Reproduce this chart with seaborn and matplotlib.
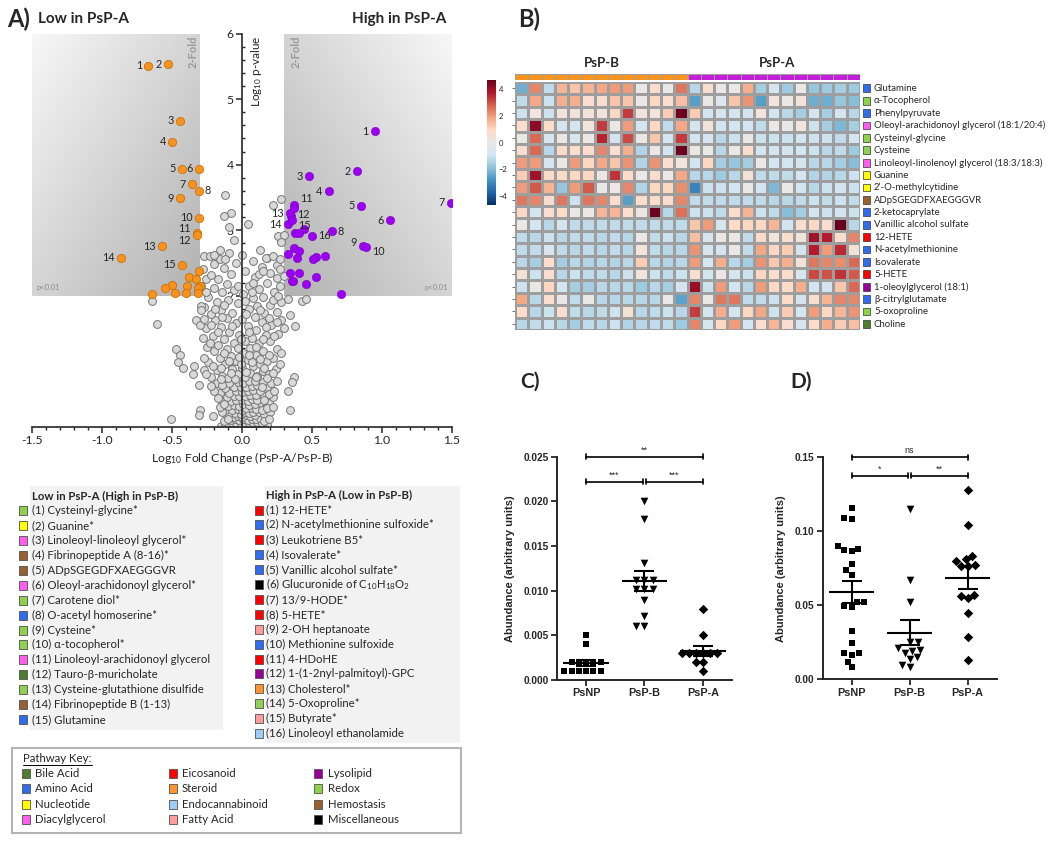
import numpy as np
import pandas as pd
import matplotlib
matplotlib.use('Agg')
import matplotlib.pyplot as plt
import seaborn as sns
from matplotlib.colors import LinearSegmentedColormap, ListedColormap
from matplotlib.patches import Rectangle
from matplotlib.ticker import MultipleLocator, FormatStrFormatter, FuncFormatter

sns.set_style('ticks')
plt.rcParams['font.family'] = ['Lato', 'DejaVu Sans']
plt.rcParams['mathtext.default'] = 'regular'

# ---------------- data ----------------
pathway_colors = {
    'Bile Acid': '#4e7d2c', 'Amino Acid': '#2f6cf0', 'Nucleotide': '#ffff00',
    'Diacylglycerol': '#ff5cf0', 'Eicosanoid': '#ff0000', 'Steroid': '#ff9430',
    'Endocannabinoid': '#9fcdf5', 'Fatty Acid': '#ff9c9c', 'Lysolipid': '#990099',
    'Redox': '#8fd14f', 'Hemostasis': '#9a6130', 'Miscellaneous': '#000000',
}
key_columns = [['Bile Acid', 'Amino Acid', 'Nucleotide', 'Diacylglycerol'],
               ['Eicosanoid', 'Steroid', 'Endocannabinoid', 'Fatty Acid'],
               ['Lysolipid', 'Redox', 'Hemostasis', 'Miscellaneous']]

# volcano: significant, lower in PsP-A (orange)
low_fc = [-0.67, -0.53, -0.44, -0.50, -0.43, -0.305, -0.355, -0.31, -0.445, -0.305, -0.325, -0.325,
          -0.574, -0.864, -0.426, -0.31, -0.38, -0.33, -0.50, -0.55, -0.39, -0.30, -0.315, -0.643,
          -0.48, -0.40, -0.317]
low_logp = [5.51, 5.53, 4.67, 4.35, 3.94, 3.94, 3.70, 3.60, 3.49, 3.19, 2.96, 2.92, 2.75, 2.58, 2.47,
            2.37, 2.29, 2.26, 2.16, 2.12, 2.14, 2.15, 2.11, 2.03, 2.04, 2.04, 2.04]
low_side = ['l', 'l', 'l', 'l', 'l', 'l', 'l', 'r', 'l', 'l', 'lu', 'ld', 'l', 'l', 'l'] + [''] * 12

# volcano: significant, higher in PsP-A (purple)
high_fc = [0.95, 0.824, 0.48, 0.62, 0.85, 1.06, 1.49, 0.64, 0.867, 0.886, 0.371, 0.35, 0.343, 0.33,
           0.355, 0.50, 0.368, 0.44, 0.38, 0.41, 0.373, 0.41, 0.33, 0.39, 0.53, 0.51, 0.59, 0.34, 0.41,
           0.53, 0.355, 0.366, 0.46, 0.71]
high_logp = [4.51, 3.90, 3.82, 3.59, 3.37, 3.15, 3.42, 2.98, 2.75, 2.74, 3.38, 3.21, 3.26, 3.09, 3.15,
             2.91, 3.33, 3.02, 2.95, 2.95, 2.72, 2.68, 2.64, 2.57, 2.59, 2.56, 2.60, 2.34, 2.34, 2.29,
             2.22, 2.23, 2.17, 2.02]
high_side = ['l', 'l', 'l', 'l', 'l', 'l', 'l', 'r', 'lu', 'rd', 'r11', 'r12', 'l', 'l', 'r15', 'r'] + [''] * 18

# volcano: all other metabolites (fold change, -log10 p)
other_points = [
    (-0.15, 0.01), (-0.12, 0.02), (-0.09, 0.01), (-0.06, 0.02), (-0.03, 0.01), (0.0, 0.02), (0.03, 0.01),
    (0.06, 0.02), (0.09, 0.01), (0.12, 0.02), (0.15, 0.01), (0.18, 0.02),
    (-0.1, 0.05), (-0.07, 0.06), (-0.04, 0.05), (-0.01, 0.06), (0.02, 0.05), (0.05, 0.06), (0.08, 0.05),
    (0.11, 0.07), (0.14, 0.06), (-0.08, 0.1), (-0.05, 0.11), (-0.02, 0.1), (0.01, 0.11), (0.04, 0.1),
    (0.07, 0.12), (0.1, 0.11), (0.13, 0.13), (-0.11, 0.15), (-0.06, 0.15), (-0.03, 0.16), (0.0, 0.15),
    (0.03, 0.17), (0.06, 0.16), (0.09, 0.18), (-0.09, 0.2), (-0.05, 0.21), (-0.01, 0.2), (0.02, 0.22),
    (0.05, 0.21), (0.08, 0.23), (0.12, 0.22), (0.16, 0.2), (-0.12, 0.26), (-0.07, 0.26), (-0.03, 0.27),
    (0.0, 0.26), (0.03, 0.28), (0.07, 0.29), (0.1, 0.27), (-0.1, 0.32), (-0.06, 0.33), (-0.02, 0.32),
    (0.01, 0.34), (0.05, 0.33), (0.09, 0.35), (0.14, 0.34), (0.19, 0.36), (-0.14, 0.38), (-0.08, 0.39),
    (-0.04, 0.4), (0.0, 0.41), (0.04, 0.39), (0.07, 0.42), (0.11, 0.41), (-0.11, 0.45), (-0.06, 0.46),
    (-0.02, 0.47), (0.02, 0.46), (0.06, 0.48), (0.1, 0.49), (0.16, 0.47), (0.22, 0.45), (-0.16, 0.52),
    (-0.09, 0.52), (-0.04, 0.54), (0.0, 0.53), (0.04, 0.55), (0.08, 0.56), (0.13, 0.54), (-0.12, 0.59),
    (-0.06, 0.6), (-0.01, 0.61), (0.03, 0.6), (0.07, 0.62), (0.11, 0.63), (0.18, 0.6), (-0.18, 0.66),
    (-0.09, 0.67), (-0.03, 0.68), (0.01, 0.67), (0.05, 0.69), (0.09, 0.7), (0.15, 0.68), (0.21, 0.66),
    (-0.22, 0.75), (-0.14, 0.78), (-0.1, 0.74), (-0.03, 0.8), (0.02, 0.76), (0.06, 0.82), (0.11, 0.78),
    (0.15, 0.85), (0.19, 0.8), (0.24, 0.88), (-0.18, 0.86), (-0.07, 0.88), (0.0, 0.9), (0.08, 0.93),
    (0.13, 0.96), (-0.12, 0.95), (-0.24, 0.98), (-0.04, 1.0), (0.04, 1.02), (0.18, 1.0), (0.22, 1.05),
    (-0.16, 1.05), (-0.08, 1.08), (0.1, 1.1), (0.01, 1.12), (-0.2, 1.15), (0.15, 1.15), (-0.11, 1.18),
    (0.06, 1.2), (0.25, 1.18), (-0.25, 1.22), (-0.17, 1.25), (-0.06, 1.27), (0.02, 1.3), (0.12, 1.28),
    (0.2, 1.3), (-0.13, 1.33), (0.07, 1.36), (0.17, 1.4), (-0.21, 1.38), (-0.02, 1.4), (0.26, 1.42),
    (-0.09, 1.45), (0.1, 1.47), (-0.26, 1.5), (-0.15, 1.52), (0.04, 1.53), (0.21, 1.55), (-0.04, 1.58),
    (0.14, 1.6), (-0.19, 1.62), (0.28, 1.62), (0.0, 1.65), (-0.11, 1.66), (0.09, 1.68), (-0.22, 1.72),
    (-0.07, 1.74), (0.16, 1.74), (0.25, 1.75), (-0.15, 1.78), (0.05, 1.8), (-0.27, 1.82), (0.11, 1.84),
    (0.2, 1.86), (-0.03, 1.88), (-0.18, 1.9), (0.28, 1.9), (-0.1, 1.94), (0.08, 1.96), (0.15, 1.98),
    (-0.24, 1.98), (0.01, 2.02), (-0.14, 2.05), (0.23, 2.05), (-0.06, 2.08), (0.12, 2.1), (-0.2, 2.12),
    (0.05, 2.15), (0.27, 2.15), (-0.11, 2.18), (0.18, 2.2), (-0.26, 2.25), (-0.17, 2.26), (0.09, 2.28),
    (-0.22, 2.32), (-0.08, 2.33), (0.2, 2.34), (0.02, 2.38), (-0.28, 2.4), (-0.13, 2.42), (0.14, 2.44),
    (-0.2, 2.48), (0.25, 2.46), (-0.04, 2.5), (0.08, 2.53), (-0.16, 2.56), (0.18, 2.58), (0.0, 2.62),
    (-0.09, 2.65), (-0.12, 3.54), (-0.08, 3.26), (-0.13, 3.21), (-0.09, 3.05), (-0.06, 2.85),
    (-0.16, 2.7), (-0.27, 2.61), (-0.23, 2.61), (-0.2, 2.62), (-0.12, 2.56), (0.045, 3.09), (0.28, 3.47),
    (0.22, 3.39), (0.26, 2.91), (0.3, 2.93), (0.28, 2.82), (0.13, 2.7), (0.17, 2.58), (0.22, 2.61),
    (0.27, 2.56), (0.27, 2.41), (0.12, 2.33), (0.25, 2.27), (0.08, 2.19),
    (-0.64, 1.91), (-0.61, 1.57), (-0.47, 1.18), (-0.44, 1.1), (-0.455, 0.99), (-0.42, 0.89),
    (-0.34, 0.92), (-0.35, 0.81), (-0.27, 0.87), (-0.31, 0.63), (-0.3, 0.25), (-0.305, 0.17),
    (-0.21, 0.16), (-0.51, 0.11), (-0.33, 1.63), (-0.3, 1.55), (-0.29, 1.84), (-0.29, 1.78),
    (0.33, 1.95), (0.43, 1.91), (0.46, 1.95), (0.34, 1.7), (0.38, 1.54), (0.37, 0.75), (0.36, 0.68),
    (0.33, 0.55), (0.34, 0.25), (0.2, 0.23), (0.165, 0.28),
    (-0.13, 0.08), (-0.1, 0.12), (0.16, 0.09), (0.19, 0.12), (-0.14, 0.22), (0.14, 0.25), (0.18, 0.28),
    (-0.16, 0.3), (0.22, 0.3), (-0.13, 0.35), (0.16, 0.4), (-0.17, 0.44), (0.19, 0.5), (-0.2, 0.55),
    (0.23, 0.55), (-0.14, 0.63), (0.14, 0.6), (-0.22, 0.62), (0.25, 0.7), (-0.15, 0.72), (0.18, 0.74),
    (-0.05, 0.73), (0.1, 0.76), (-0.26, 0.8), (0.22, 0.82), (-0.08, 0.82), (0.03, 0.84), (-0.15, 0.9),
    (0.16, 0.9), (0.27, 0.95), (-0.21, 0.93), (-0.01, 0.95), (0.07, 0.98), (-0.09, 1.0), (0.13, 1.03),
    (-0.27, 1.05), (-0.02, 1.06), (0.05, 1.09), (-0.13, 1.12), (0.19, 1.1), (0.28, 1.12), (-0.23, 1.28),
    (0.1, 1.22), (-0.03, 1.2), (0.15, 1.34), (-0.28, 1.35), (-0.01, 1.33), (0.23, 1.38), (-0.17, 1.44),
    (0.05, 1.44), (0.3, 1.5), (-0.22, 1.55), (0.17, 1.52), (-0.07, 1.53), (0.25, 1.6), (-0.27, 1.65),
    (-0.14, 1.68), (0.19, 1.66), (0.03, 1.72), (-0.19, 1.8), (0.13, 1.78), (0.22, 1.94), (-0.13, 1.86),
    (0.02, 1.92), (-0.26, 2.05), (0.26, 2.0), (0.07, 2.05), (-0.03, 2.15), (0.3, 2.3), (-0.29, 2.15),
    (0.15, 2.38),
]

low_names = ['(1) Cysteinyl-glycine*', '(2) Guanine*', '(3) Linoleoyl-linoleoyl glycerol*',
             '(4) Fibrinopeptide A (8-16)*', '(5) ADpSGEGDFXAEGGGVR', '(6) Oleoyl-arachidonoyl glycerol*',
             '(7) Carotene diol*', '(8) O-acetyl homoserine*', '(9) Cysteine*', '(10) α-tocopherol*',
             '(11) Linoleoyl-arachidonoyl glycerol', '(12) Tauro-β-muricholate',
             '(13) Cysteine-glutathione disulfide', '(14) Fibrinopeptide B (1-13)', '(15) Glutamine']
low_paths = ['Redox', 'Nucleotide', 'Diacylglycerol', 'Hemostasis', 'Hemostasis', 'Diacylglycerol',
             'Redox', 'Amino Acid', 'Redox', 'Redox', 'Diacylglycerol', 'Bile Acid', 'Redox',
             'Hemostasis', 'Amino Acid']
high_names = ['(1) 12-HETE*', '(2) N-acetylmethionine sulfoxide*', '(3) Leukotriene B5*',
              '(4) Isovalerate*', '(5) Vanillic alcohol sulfate*', '(6) Glucuronide of C$_{10}$H$_{18}$O$_2$',
              '(7) 13/9-HODE*', '(8) 5-HETE*', '(9) 2-OH heptanoate', '(10) Methionine sulfoxide',
              '(11) 4-HDoHE', '(12) 1-(1-2nyl-palmitoyl)-GPC', '(13) Cholesterol*', '(14) 5-Oxoproline*',
              '(15) Butyrate*', '(16) Linoleoyl ethanolamide']
high_paths = ['Eicosanoid', 'Amino Acid', 'Eicosanoid', 'Amino Acid', 'Amino Acid', 'Miscellaneous',
              'Eicosanoid', 'Eicosanoid', 'Fatty Acid', 'Amino Acid', 'Eicosanoid', 'Lysolipid',
              'Steroid', 'Redox', 'Fatty Acid', 'Endocannabinoid']

# heatmap (B)
metabolites = ['Glutamine', 'α-Tocopherol', 'Phenylpyruvate', 'Oleoyl-arachidonoyl glycerol (18:1/20:4)',
               'Cysteinyl-glycine', 'Cysteine', 'Linoleoyl-linolenoyl glycerol (18:3/18:3)', 'Guanine',
               '2’-O-methylcytidine', 'ADpSGEGDFXAEGGGVR', '2-ketocaprylate', 'Vanillic alcohol sulfate',
               '12-HETE', 'N-acetylmethionine', 'Isovalerate', '5-HETE', '1-oleoylglycerol (18:1)',
               'β-citrylglutamate', '5-oxoproline', 'Choline']
metab_paths = ['Amino Acid', 'Redox', 'Amino Acid', 'Diacylglycerol', 'Redox', 'Redox', 'Diacylglycerol',
               'Nucleotide', 'Nucleotide', 'Hemostasis', 'Amino Acid', 'Amino Acid', 'Eicosanoid',
               'Amino Acid', 'Amino Acid', 'Eicosanoid', 'Lysolipid', 'Amino Acid', 'Redox', 'Bile Acid']
sample_groups = ['PsP-B'] * 13 + ['PsP-A'] * 13
heat_values = [
    [-2.3, 2.3, -1.2, 1.6, 1.3, 1.6, 1.8, 2.0, 2.0, 0, 0.8, 0, 2.5, -1.3, 0.7, 0.1, 0, 1.7, -1.6, -0.7, -1.7, 0, -1.8, -1.7, -1.6, -1.7],
    [-1.2, 1.8, -1.0, 1.7, 1.7, 0.7, 0.7, 1.3, 1.3, 0, 1.0, 0.8, 1.4, -2.6, 0, -0.5, 1.3, 2.1, -2.6, 0.3, 0, 0.4, -2.3, -2.3, -1.8, -2.0],
    [-1.0, 0.3, -1.0, 0.4, 0.4, 0.4, 0.4, 1.0, 3.3, 0.3, 0.3, 1.2, 4.6, 1.2, -0.9, -0.8, -0.9, -0.9, 0.3, -0.9, -1.3, -1.6, -0.8, -1.6, -0.8, -1.3],
    [0.8, 4.2, 0.9, -0.8, -0.8, 0.3, 3.3, 0.1, 2.0, -0.8, 1.0, -1.2, 1.8, -0.8, 0.4, -0.9, -0.8, -0.9, -1.2, 0, 0, 0.3, -1.0, -1.6, -2.1, -1.6],
    [0, 2.7, -0.8, 0.1, -0.7, 0.1, 3.6, -0.8, 3.1, 0.1, 1.3, -0.8, 3.3, -0.9, -0.8, -1.3, -1.0, 0, -1.0, -1.0, -1.0, -0.9, -1.0, -1.0, -1.2, -0.8],
    [0.8, 2.7, -1.3, 0.9, 0.8, 0.8, 2.3, 0.7, 1.7, -1.4, 0.1, -0.9, 4.6, 0, 0, -1.3, 0, 0.8, -0.9, -0.9, -0.9, -0.9, -1.0, -1.3, -1.2, -1.7],
    [2.0, 2.0, -0.8, 0.1, 2.0, 1.0, 1.8, 1.3, 2.1, -1.4, 2.1, 0.8, 0.3, -0.9, 1.0, -1.6, -1.8, -1.6, 0, -0.9, -0.9, -0.8, -1.3, -1.3, -1.6, -2.0],
    [1.2, 4.0, 0.9, 0.9, 1.0, 1.0, 0.1, 3.4, 0.9, 0, 0.7, 0, 1.8, -1.3, -1.3, -1.7, -1.3, 0.5, -1.2, -1.2, -1.2, -0.8, -1.4, -1.4, -1.3, -1.0],
    [2.0, 2.9, 1.6, -1.8, 2.0, 2.9, 0, 0.1, 2.3, -1.4, 1.0, 1.0, 2.2, -3.1, -1.0, -1.0, -0.9, 0, -0.9, -2.1, 0, -0.9, -1.3, -1.0, -0.9, -1.0],
    [2.5, 2.3, 0.8, 2.5, -1.0, 2.5, 2.3, 0.8, -2.6, 0.8, 0.8, 0.8, 2.3, -1.2, -1.2, -1.2, -1.2, -1.2, -1.2, -1.3, -1.3, -1.2, -1.0, -1.2, -1.0, -1.2],
    [1.0, -0.8, 0.7, 0.9, 0, 0.1, 1.6, 1.6, 0.8, 0.1, 4.6, -1.3, 2.6, -1.0, -1.0, -1.2, 0.8, 1.6, -1.0, -1.2, -2.0, -1.6, -0.9, -1.0, -0.9, -1.0],
    [0, -0.9, -1.3, -0.8, -1.2, -1.2, -1.2, -1.2, -1.2, -1.2, -1.2, -1.2, -1.2, 1.3, 2.0, -0.7, 0.9, 1.0, 1.0, 1.6, -0.9, 0.7, 1.0, 0.8, 4.7, -1.3],
    [-1.2, -1.3, -1.0, -1.3, -1.2, -1.2, -1.3, -1.2, -1.3, 0, -1.2, -1.0, -1.3, 1.4, -0.7, 0.1, 0, -1.2, 0.9, 0.3, 0.8, 0.4, 4.0, 3.7, 0.7, 2.3],
    [-1.2, -1.2, -0.7, -1.2, -1.3, -1.2, -1.3, -1.2, -1.3, 0.3, -1.2, -1.3, -1.3, 2.1, -0.8, -0.8, 0, -1.2, 1.8, 1.0, 1.2, -0.8, 3.7, 2.0, 3.5, 0.5],
    [-1.3, -1.6, 0.8, -1.6, -1.3, -1.4, -1.3, -1.4, -1.3, 1.2, -1.3, -1.4, -1.3, 2.0, -0.7, 1.7, -1.3, -1.6, 2.1, 1.3, 1.7, 0.4, 2.5, 2.3, 2.2, 2.7],
    [0.5, -1.0, 0.7, -1.3, -1.0, -1.2, -1.2, -1.3, -1.0, 0.3, -1.0, -1.2, -1.0, 0.7, -0.9, 0.1, -0.8, -1.0, 1.0, 0.7, 0.8, -0.7, 3.1, 3.0, 3.4, 2.9],
    [-1.0, 0, 1.0, -0.9, -1.6, -1.6, -1.3, -1.3, -1.3, -1.7, -1.3, -1.6, -0.8, 4.1, -1.0, 2.0, -0.9, -1.3, 2.0, 1.0, 0.9, 1.7, -0.9, -0.9, 1.3, 2.7],
    [1.8, -1.3, 0.8, 0, -1.2, 0, -1.3, -1.3, -1.3, -1.3, -1.3, 0, -2.5, 2.3, 0, 2.5, 2.5, -1.2, -1.2, -1.0, 0.9, -0.8, 0.7, 1.6, 2.3, 2.3],
    [0.8, -1.3, -1.0, 0.7, -1.2, -1.3, -1.2, -1.0, 0.5, -1.3, -1.2, -1.0, -1.3, 3.3, -0.9, 1.7, -0.8, 1.0, 1.8, -1.0, 1.2, -0.8, 2.0, 1.0, 1.6, 2.1],
    [-1.3, -1.2, -1.0, -1.3, -1.6, -1.2, -1.3, -1.0, -1.4, -1.3, -1.2, -1.2, -1.7, 2.3, -0.8, 1.0, 2.0, -0.9, 0.8, 1.6, 0.7, -0.7, 0.9, 1.7, 1.2, 1.4],
]

# dot plots (C, D)
groups = ['PsNP', 'PsP-B', 'PsP-A']
c_psnp = [0.005, 0.004, 0.002, 0.002, 0.002, 0.002, 0.002, 0.001, 0.001, 0.001, 0.001, 0.001, 0.001]
c_pspb = [0.020, 0.018, 0.0131, 0.0112, 0.0112, 0.0112, 0.0102, 0.0102, 0.0102, 0.009, 0.0072, 0.0061, 0.0061]
c_pspa = [0.008, 0.005, 0.003, 0.003, 0.003, 0.003, 0.003, 0.003, 0.002, 0.002, 0.001]
d_psnp = [0.116, 0.108, 0.109, 0.090, 0.0874, 0.0865, 0.088, 0.0777, 0.0739, 0.0707, 0.052, 0.0487,
          0.0497, 0.0524, 0.0326, 0.0243, 0.0176, 0.0164, 0.0176, 0.012, 0.008]
d_pspb = [0.115, 0.067, 0.052, 0.025, 0.025, 0.021, 0.019, 0.018, 0.020, 0.014, 0.015, 0.010, 0.008]
d_pspa = [0.128, 0.104, 0.081, 0.080, 0.083, 0.0766, 0.0774, 0.0766, 0.0572, 0.0563, 0.055, 0.0446,
          0.0284, 0.013]
c_stars = [('**', 0, 2, 0.025), ('***', 0, 0.97, 0.0222), ('***', 1.03, 2, 0.0222)]
d_stars = [('ns', 0, 2, 0.15), ('*', 0, 0.97, 0.1376), ('**', 1.03, 2, 0.1376)]

# ---------------- figure ----------------
W, H = 1050, 842
fig = plt.figure(figsize=(10.5, 8.42), dpi=100)


def rect(l, t, r, b):
    return [l / W, 1 - b / H, (r - l) / W, (b - t) / H]


ov = fig.add_axes([0, 0, 1, 1])
ov.set_xlim(0, W)
ov.set_ylim(H, 0)
ov.axis('off')

# ---- A) volcano ----
ax = fig.add_axes(rect(32, 33.6, 452, 426.6))
grad = np.add.outer(np.linspace(0, 1, 80), np.linspace(0, 1, 80)) / 2
shade = LinearSegmentedColormap.from_list('shade', ['#f7f7f7', '#b2b2b2'])
ax.imshow(grad, extent=[-1.5, -0.301, 2, 6], cmap=shade, vmin=0, vmax=1, aspect='auto', origin='upper', zorder=0)
ax.imshow(grad[:, ::-1], extent=[0.301, 1.5, 2, 6], cmap=shade, vmin=0, vmax=1, aspect='auto', origin='upper', zorder=0)

others = pd.DataFrame(other_points, columns=['fc', 'logp'])
sns.scatterplot(data=others, x='fc', y='logp', s=32, color='#d9d9d9', edgecolor='#777777', linewidth=0.7, ax=ax, zorder=2)
sns.scatterplot(x=low_fc, y=low_logp, s=36, color='#f7921e', edgecolor='#c46a00', linewidth=0.5, ax=ax, zorder=3)
sns.scatterplot(x=high_fc, y=high_logp, s=36, color='#9b00f2', edgecolor='#7a00c0', linewidth=0.4, ax=ax, zorder=3)

offsets = {'l': (-4.5, 0, 'right'), 'r': (4.5, 0, 'left'), 'lu': (-4.5, 3, 'right'), 'ld': (-4.5, -4, 'right'),
           'r11': (4.5, 4.5, 'left'), 'r12': (4.5, 1.5, 'left'), 'r15': (4.5, -3.5, 'left'),
           'rd': (4.5, -3, 'left')}
for fcs, lps, sides in [(low_fc, low_logp, low_side), (high_fc, high_logp, high_side)]:
    n = 0
    for xv, yv, sd in zip(fcs, lps, sides):
        if not sd:
            continue
        n += 1
        dx, dy, ha = offsets[sd]
        ax.annotate(str(n), (xv, yv), xytext=(dx, dy), textcoords='offset points', ha=ha, va='center',
                    fontsize=7.8, zorder=4)

ax.text(-0.35, 5.97, '2-Fold', rotation=90, ha='center', va='top', color='#9a9a9a', fontweight='bold', fontsize=8)
ax.text(0.385, 5.97, '2-Fold', rotation=90, ha='center', va='top', color='#9a9a9a', fontweight='bold', fontsize=8)
ax.text(-1.47, 2.13, 'p<0.01', fontsize=5.5, color='#8c8c8c', va='center')
ax.text(1.47, 2.13, 'p<0.01', fontsize=5.5, color='#8c8c8c', va='center', ha='right')
ax.text(0.05, 5.98, 'Log$_{10}$ p-value', rotation=90, ha='left', va='top', fontsize=8.5)

ax.set_xlim(-1.5, 1.5)
ax.set_ylim(0, 6)
ax.spines['left'].set_position(('data', 0))
ax.spines['top'].set_visible(False)
ax.spines['right'].set_visible(False)
for s in ['left', 'bottom']:
    ax.spines[s].set_linewidth(1.2)
ax.xaxis.set_major_locator(MultipleLocator(0.5))
ax.xaxis.set_minor_locator(MultipleLocator(0.1))
ax.xaxis.set_major_formatter(FormatStrFormatter('%.1f'))
ax.yaxis.set_major_locator(MultipleLocator(1))
ax.yaxis.set_minor_locator(MultipleLocator(0.2))
ax.yaxis.set_major_formatter(FuncFormatter(lambda v, p: '' if v == 0 else f'{v:.0f}'))
ax.tick_params(axis='both', which='major', direction='out', length=4, width=1.1, labelsize=8.8, pad=2)
ax.tick_params(axis='x', which='minor', direction='out', length=2.5, width=1)
ax.tick_params(axis='y', which='minor', direction='in', length=2.5, width=1)
ax.set_xlabel('Log$_{10}$ Fold Change (PsP-A/PsP-B)', fontsize=8.8, labelpad=3)
ax.set_ylabel('')

ov.text(7, 19, 'A)', fontsize=17, fontweight='bold', va='center')
ov.text(38, 19, 'Low in PsP-A', fontsize=11, fontweight='bold', va='center')
ov.text(446, 19, 'High in PsP-A', fontsize=11, fontweight='bold', va='center', ha='right')

# ---- legends below volcano ----
leg_fs = 8.2
ov.add_patch(Rectangle((30, 486), 193, 244, facecolor='#f2f2f2', edgecolor='none'))
ov.text(32, 496, 'Low in PsP-A (High in PsP-B)', fontsize=leg_fs, fontweight='bold', va='center')
for k, (name, path) in enumerate(zip(low_names, low_paths)):
    y = 510.8 + 14.9 * k
    ov.add_patch(Rectangle((19, y - 4.5), 8, 9, facecolor=pathway_colors[path], edgecolor='#505050', lw=0.6))
    ov.text(32, y, name, fontsize=leg_fs, va='center')

ov.add_patch(Rectangle((265, 486), 195, 257, facecolor='#f2f2f2', edgecolor='none'))
ov.text(266, 495, 'High in PsP-A (Low in PsP-B)', fontsize=leg_fs, fontweight='bold', va='center')
for k, (name, path) in enumerate(zip(high_names, high_paths)):
    y = 510 + 14.9 * k
    ov.add_patch(Rectangle((255, y - 4.5), 8, 9, facecolor=pathway_colors[path], edgecolor='#505050', lw=0.6))
    ov.text(266, y, name, fontsize=leg_fs, va='center')

ov.add_patch(Rectangle((11.5, 748), 449.5, 85, facecolor='none', edgecolor='#b4b4b4', lw=1.5))
ov.text(23, 758, 'Pathway Key:', fontsize=leg_fs, va='center')
ov.plot([23, 92], [764.5, 764.5], color='black', lw=0.7)
for col, (sq_x, tx_x) in zip(key_columns, [(22, 35), (169, 182), (314, 328)]):
    for r, path in enumerate(col):
        y = 773.3 + 15.5 * r
        ov.add_patch(Rectangle((sq_x, y - 4.5), 8, 9, facecolor=pathway_colors[path], edgecolor='#505050', lw=0.6))
        ov.text(tx_x, y, path, fontsize=leg_fs, va='center')

# ---- B) heatmap ----
heat_cmap = LinearSegmentedColormap.from_list(
    'rdbu_grey', ['#053061', '#2166ac', '#4393c3', '#92c5de', '#d1e5f0', '#eae8e7',
                  '#fddbc7', '#f4a582', '#d6604d', '#b2182b', '#67001f'])
heat_df = pd.DataFrame(heat_values, index=metabolites)
ax_hm = fig.add_axes(rect(515, 82, 860, 330))
cax = fig.add_axes(rect(487, 80, 496, 205))
sns.heatmap(heat_df, ax=ax_hm, cmap=heat_cmap, vmin=-4.7, vmax=4.7, linewidths=0.8, linecolor='#9e9e9e',
            cbar_ax=cax, cbar_kws={'ticks': [-4, -2, 0, 2, 4]}, xticklabels=False, yticklabels=False)
ax_hm.set_yticks(np.arange(len(metabolites)) + 0.5)
ax_hm.set_yticklabels([])
ax_hm.tick_params(axis='y', left=True, length=2, width=0.6, color='#555555')
ax_hm.set_ylabel('')
cax.tick_params(labelsize=5.5, length=0, pad=2)
ax_hm.collections[0].colorbar.outline.set_visible(False)
for i, (name, path) in enumerate(zip(metabolites, metab_paths)):
    ax_hm.add_patch(Rectangle((26.2, i + 0.2), 0.55, 0.62, facecolor=pathway_colors[path], edgecolor='#333333',
                              lw=0.5, clip_on=False))
    ax_hm.text(27.05, i + 0.52, name, va='center', fontsize=6.9, clip_on=False)

ax_st = fig.add_axes(rect(515, 74, 860, 80))
codes = np.array([[0 if g == 'PsP-B' else 1 for g in sample_groups]])
sns.heatmap(codes, ax=ax_st, cmap=ListedColormap(['#f7941d', '#c41fd8']), cbar=False, linewidths=0.6,
            linecolor='#9e9e9e', xticklabels=False, yticklabels=False)
ov.text(602, 63, 'PsP-B', fontsize=9.5, fontweight='bold', ha='center', va='center')
ov.text(777, 63, 'PsP-A', fontsize=9.5, fontweight='bold', ha='center', va='center')
ov.text(518, 19, 'B)', fontsize=17, fontweight='bold', va='center')

# ---- C) and D) dot plots ----
arial = 'Liberation Sans'
markers = ['s', 'v', 'D']
msize = [5, 5.5, 4.8]


def dot_panel(ax, values, ymax, step, fmt, stars, tick_h):
    df = pd.DataFrame({'group': np.repeat(groups, [len(v) for v in values]),
                       'value': np.concatenate(values)})
    for g, m, sz in zip(groups, markers, msize):
        sns.swarmplot(data=df[df['group'] == g], x='group', y='value', order=groups, marker=m, size=sz,
                      color='black', ax=ax, zorder=2)
    stats = df.groupby('group')['value'].agg(['mean', 'sem'])
    for i, g in enumerate(groups):
        ax.hlines(stats.loc[g, 'mean'], i - 0.39, i + 0.39, color='black', lw=1.5, zorder=3)
        ax.errorbar(i, stats.loc[g, 'mean'], yerr=stats.loc[g, 'sem'], fmt='none', ecolor='black',
                    elinewidth=1.5, capsize=7, capthick=1.5, zorder=3)
    for lab, x1, x2, yv in stars:
        ax.plot([x1, x2], [yv, yv], color='black', lw=1.2, clip_on=False)
        for xe in (x1, x2):
            ax.plot([xe, xe], [yv - tick_h, yv + tick_h], color='black', lw=1.2, clip_on=False)
        ax.annotate(lab, ((x1 + x2) / 2, yv), xytext=(0, 1.5), textcoords='offset points', ha='center',
                    va='bottom', fontsize=6.5, family=arial)
    ax.set_xlim(-0.5, 2.5)
    ax.set_ylim(0, ymax)
    ticks = np.arange(0, ymax + step / 2, step)
    ax.set_yticks(ticks, labels=[fmt % t for t in ticks], fontsize=7.3, fontweight='bold', family=arial)
    ax.set_xticks(range(3), labels=groups, fontsize=7.8, fontweight='bold', family=arial)
    ax.set_xlabel('')
    ax.set_ylabel('Abundance (arbitrary units)', fontsize=8, fontweight='bold', family=arial, labelpad=6)
    sns.despine(ax=ax)
    for s in ['left', 'bottom']:
        ax.spines[s].set_linewidth(1.4)
    ax.tick_params(length=4, width=1.3, pad=2)


ax_c = fig.add_axes(rect(557, 456.7, 732, 680))
dot_panel(ax_c, [c_psnp, c_pspb, c_pspa], 0.025, 0.005, '%.3f', c_stars, 0.00028)
ax_d = fig.add_axes(rect(822.5, 457.3, 996.7, 679.3))
dot_panel(ax_d, [d_psnp, d_pspb, d_pspa], 0.15, 0.05, '%.2f', d_stars, 0.0017)
ov.text(520, 382, 'C)', fontsize=15, fontweight='bold', va='center')
ov.text(790, 382, 'D)', fontsize=15, fontweight='bold', va='center')

fig.savefig('out.png', dpi=100)
